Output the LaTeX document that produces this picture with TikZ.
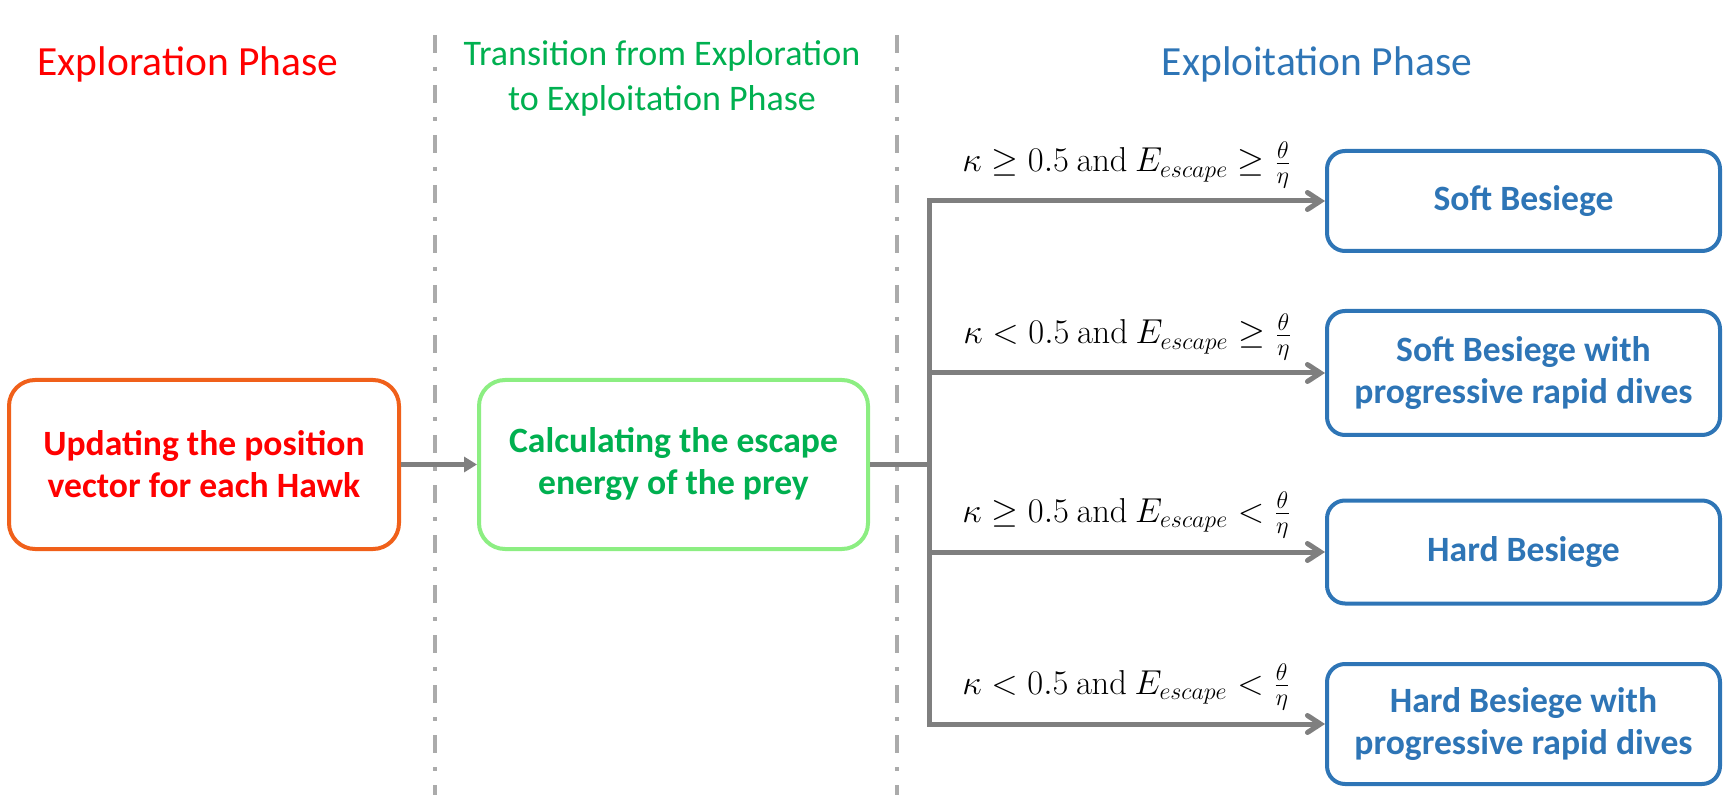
\documentclass[tikz,border=0pt]{standalone}
\usepackage[no-math]{fontspec}
\setmainfont{Carlito}
\usetikzlibrary{arrows.meta}
\definecolor{cRed}{HTML}{FF0000}
\definecolor{cOrange}{HTML}{F0601A}
\definecolor{cGreen}{HTML}{00B050}
\definecolor{cLGreen}{HTML}{8CEE82}
\definecolor{cBlue}{HTML}{2E75B6}
\definecolor{cGray}{HTML}{7F7F7F}
\definecolor{cSep}{HTML}{ABABAB}
\tikzset{
  box/.style={rounded corners=13pt, line width=2pt, fill=white, align=center,
    inner sep=0pt, font=\fontsize{17.8}{21}\selectfont\bfseries},
  leftbox/.style={box, draw=cOrange, text=cRed, minimum width=195pt, minimum height=84.5pt},
  midbox/.style={box, draw=cLGreen, text=cGreen, minimum width=194.5pt, minimum height=84.5pt},
  bluebox/.style={box, draw=cBlue, text=cBlue, rounded corners=9pt, minimum width=196.5pt},
  title/.style={anchor=base, inner sep=0pt, font=\fontsize{20.75}{25}\selectfont},
  subtitle/.style={anchor=base, inner sep=0pt, text=cGreen, font=\fontsize{18}{22}\selectfont},
  cond/.style={anchor=base west, inner sep=0pt, font=\fontsize{16.4}{20}\selectfont},
  sepline/.style={draw=cSep, line width=2.25pt, dash pattern=on 9pt off 7pt on 2pt off 7pt},
  flow/.style={draw=cGray, line width=2.5pt, -{Triangle[length=6.5pt,width=7.5pt]}},
  branch/.style={draw=cGray, line width=2.5pt, -{Straight Barb[length=6.5pt,width=8.5pt,line cap=round]}},
  trunkline/.style={draw=cGray, line width=2.5pt, line cap=rect},
}
\begin{document}
\begin{tikzpicture}[x=0.5pt,y=-0.5pt]
\useasboundingbox (0,0) rectangle (1732,806);

% separators
\coordinate (s1a) at (435,35);
\coordinate (s1b) at (435,795);
\coordinate (s2a) at (897,35);
\coordinate (s2b) at (897,795);
\draw[sepline] (s1a) -- (s1b);
\draw[sepline] (s2a) -- (s2b);

% titles
\node[title, text=cRed] (t1) at (188,76) {Exploration Phase};
\node[subtitle] (t2a) at (662,66) {Transition from Exploration};
\node[subtitle] (t2b) at (662,111) {to Exploitation Phase};
\node[title, text=cBlue] (t3) at (1317,76) {Exploitation Phase};

% boxes
\node[leftbox] (upd) at (204,464.5) {Updating the position\\vector for each Hawk};
\node[midbox] (calc) at (673.5,464.5) {Calculating the escape\\energy of the prey};
\node[bluebox, minimum height=50pt] (b1) at (1523.5,201) {Soft Besiege};
\node[bluebox, minimum height=62pt] (b2) at (1523.5,373) {Soft Besiege with\\progressive rapid dives};
\node[bluebox, minimum height=51.5pt] (b3) at (1523.5,552) {Hard Besiege};
\node[bluebox, minimum height=60pt] (b4) at (1523.5,724) {Hard Besiege with\\progressive rapid dives};

% connectors
\coordinate (trunk) at (929,464.5);
\draw[flow] (upd.east) -- (calc.west);
\draw[draw=cGray, line width=2.5pt] (calc.east) -- (trunk);
\draw[trunkline] (trunk |- b1.west) -- (trunk |- b4.west);
\draw[branch] (trunk |- b1.west) -- (b1.west);
\draw[branch] (trunk |- b2.west) -- (b2.west);
\draw[branch] (trunk |- b3.west) -- (b3.west);
\draw[branch] (trunk |- b4.west) -- (b4.west);

% conditions
\node[cond] (c1) at (962,172) {$\kappa \geq 0.5\ \mathrm{and}\ E_{escape} \geq \frac{\theta}{\eta}$};
\node[cond] (c2) at (963,344) {$\kappa < 0.5\ \mathrm{and}\ E_{escape} \geq \frac{\theta}{\eta}$};
\node[cond] (c3) at (962,522) {$\kappa \geq 0.5\ \mathrm{and}\ E_{escape} < \frac{\theta}{\eta}$};
\node[cond] (c4) at (962,694) {$\kappa < 0.5\ \mathrm{and}\ E_{escape} < \frac{\theta}{\eta}$};
\end{tikzpicture}
\end{document}
